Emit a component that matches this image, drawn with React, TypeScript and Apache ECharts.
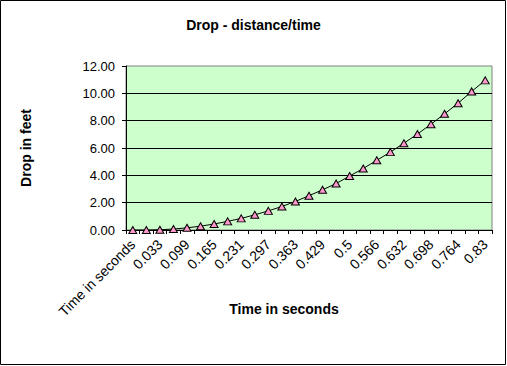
import React, { useEffect, useRef } from "react";
import * as echarts from "echarts";

const categories = [
  "Time in seconds", "0", "0.033", "0.066", "0.099", "0.132", "0.165", "0.198", "0.231",
  "0.264", "0.297", "0.33", "0.363", "0.396", "0.429", "0.462", "0.5", "0.533",
  "0.566", "0.599", "0.632", "0.665", "0.698", "0.731", "0.764", "0.797", "0.83",
];

const dropFeet = [
  0, 0, 0.02, 0.07, 0.16, 0.28, 0.44, 0.63, 0.85, 1.11, 1.4, 1.72, 2.09, 2.51,
  2.94, 3.4, 3.95, 4.5, 5.1, 5.7, 6.35, 7.02, 7.74, 8.5, 9.28, 10.14, 10.95,
];

const titleText = "Drop - distance/time";
const xAxisName = "Time in seconds";
const yAxisName = "Drop in feet";
const yMin = 0;
const yMax = 12;
const yStep = 2;

const FONT = "'Liberation Sans', Arial, sans-serif";

export default function App() {
  const ref = useRef<HTMLDivElement>(null);
  useEffect(() => {
    document.body.style.margin = "0";
    const chart = echarts.init(ref.current!, null, { renderer: "svg" });
    chart.setOption({
      animation: false,
      backgroundColor: "#ffffff",
      textStyle: { fontFamily: FONT },
      title: {
        text: titleText,
        left: "center",
        top: 13,
        textStyle: { fontFamily: FONT, fontSize: 14, fontWeight: "bold", color: "#000" },
      },
      graphic: [
        {
          type: "rect",
          silent: true,
          z: 100,
          shape: { x: 0.5, y: 0.5, width: 505, height: 364 },
          style: { fill: "none", stroke: "#000", lineWidth: 1 },
        },
      ],
      grid: {
        left: 126,
        right: 15,
        top: 66,
        bottom: 136,
        show: true,
        backgroundColor: "#CCFFCC",
        borderColor: "#808080",
        borderWidth: 1,
      },
      xAxis: {
        type: "category",
        data: categories,
        boundaryGap: true,
        name: xAxisName,
        nameLocation: "middle",
        nameGap: 72,
        nameMoveOverlap: false,
        nameTextStyle: {
          fontFamily: FONT,
          fontSize: 14,
          fontWeight: "bold",
          color: "#000",
          padding: [0, 50, 0, 0],
        },
        axisLine: { show: true, lineStyle: { color: "#000", width: 1 } },
        axisTick: { show: true, interval: 0, length: 4, lineStyle: { color: "#000" } },
        axisLabel: {
          interval: 1,
          rotate: 45,
          margin: 12,
          fontFamily: FONT,
          fontSize: 14,
          color: "#000",
        },
        splitLine: { show: false },
      },
      yAxis: {
        type: "value",
        min: yMin,
        max: yMax,
        interval: yStep,
        name: yAxisName,
        nameLocation: "middle",
        nameGap: 93,
        nameMoveOverlap: false,
        nameTextStyle: { fontFamily: FONT, fontSize: 14, fontWeight: "bold", color: "#000" },
        axisLine: { show: true, lineStyle: { color: "#000", width: 1 } },
        axisTick: { show: true, length: 4, lineStyle: { color: "#000" } },
        axisLabel: {
          margin: 11,
          fontFamily: FONT,
          fontSize: 13,
          color: "#000",
          formatter: (v: number) => v.toFixed(2),
        },
        splitLine: {
          show: true,
          showMaxLine: false,
          lineStyle: { color: "#000", width: 1 },
        },
      },
      series: [
        {
          type: "line",
          data: dropFeet,
          symbol: "triangle",
          symbolSize: [8, 7],
          showAllSymbol: true,
          lineStyle: { color: "#000", width: 1 },
          itemStyle: { color: "#FF99CC", borderColor: "#000", borderWidth: 1 },
        },
      ],
    });
    return () => chart.dispose();
  }, []);
  return <div ref={ref} style={{ width: 507, height: 366 }} />;
}
